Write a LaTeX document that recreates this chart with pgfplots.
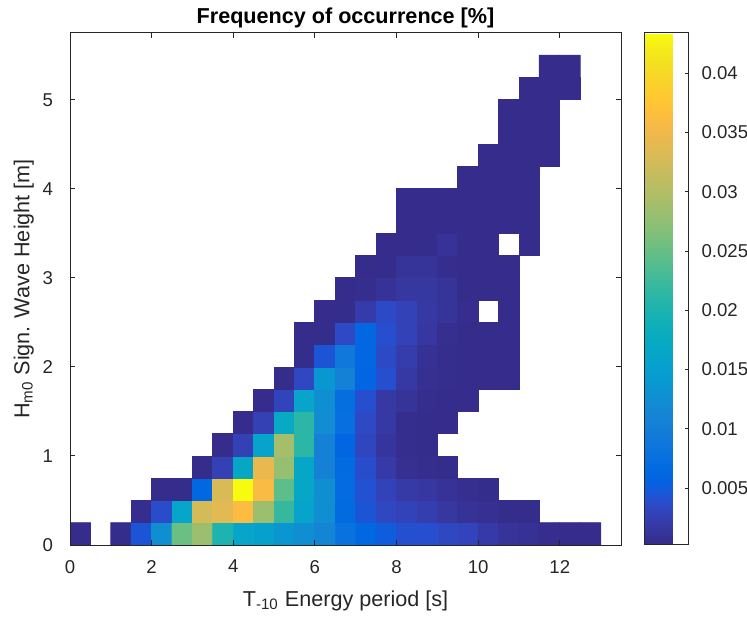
\documentclass[border=0pt]{standalone}
\usepackage{pgfplots}
\pgfplotsset{compat=1.18}
\usepackage{fontspec}
\setmainfont{Liberation Sans}
\definecolor{axgray}{rgb}{0.15,0.15,0.15}
\pgfplotsset{
  colormap={parula}{
    rgb=(0.2081,0.1663,0.5292) rgb=(0.2116,0.1898,0.5777) rgb=(0.2123,0.2138,0.6270) rgb=(0.2081,0.2386,0.6771)
    rgb=(0.1959,0.2645,0.7279) rgb=(0.1707,0.2919,0.7792) rgb=(0.1253,0.3242,0.8303) rgb=(0.0591,0.3598,0.8683)
    rgb=(0.0117,0.3875,0.8820) rgb=(0.0060,0.4086,0.8828) rgb=(0.0165,0.4266,0.8786) rgb=(0.0329,0.4430,0.8720)
    rgb=(0.0498,0.4586,0.8641) rgb=(0.0629,0.4737,0.8554) rgb=(0.0723,0.4887,0.8467) rgb=(0.0779,0.5040,0.8384)
    rgb=(0.0793,0.5200,0.8312) rgb=(0.0749,0.5375,0.8263) rgb=(0.0641,0.5570,0.8240) rgb=(0.0488,0.5772,0.8228)
    rgb=(0.0343,0.5966,0.8199) rgb=(0.0265,0.6137,0.8135) rgb=(0.0239,0.6287,0.8038) rgb=(0.0231,0.6418,0.7913)
    rgb=(0.0228,0.6535,0.7768) rgb=(0.0267,0.6642,0.7607) rgb=(0.0384,0.6743,0.7436) rgb=(0.0590,0.6838,0.7254)
    rgb=(0.0843,0.6928,0.7062) rgb=(0.1133,0.7015,0.6859) rgb=(0.1453,0.7098,0.6646) rgb=(0.1801,0.7177,0.6424)
    rgb=(0.2178,0.7250,0.6193) rgb=(0.2586,0.7317,0.5954) rgb=(0.3022,0.7376,0.5712) rgb=(0.3482,0.7424,0.5473)
    rgb=(0.3953,0.7459,0.5244) rgb=(0.4420,0.7481,0.5033) rgb=(0.4871,0.7491,0.4840) rgb=(0.5300,0.7491,0.4661)
    rgb=(0.5709,0.7485,0.4494) rgb=(0.6099,0.7473,0.4337) rgb=(0.6473,0.7456,0.4188) rgb=(0.6834,0.7435,0.4044)
    rgb=(0.7184,0.7411,0.3905) rgb=(0.7525,0.7384,0.3768) rgb=(0.7858,0.7356,0.3633) rgb=(0.8185,0.7327,0.3498)
    rgb=(0.8507,0.7299,0.3360) rgb=(0.8824,0.7274,0.3217) rgb=(0.9139,0.7258,0.3063) rgb=(0.9450,0.7261,0.2886)
    rgb=(0.9739,0.7314,0.2666) rgb=(0.9938,0.7455,0.2403) rgb=(0.9990,0.7653,0.2164) rgb=(0.9955,0.7861,0.1967)
    rgb=(0.9880,0.8066,0.1794) rgb=(0.9789,0.8271,0.1633) rgb=(0.9697,0.8481,0.1475) rgb=(0.9626,0.8705,0.1309)
    rgb=(0.9589,0.8949,0.1132) rgb=(0.9598,0.9218,0.0948) rgb=(0.9661,0.9514,0.0755) rgb=(0.9763,0.9831,0.0538)
  }
}
\begin{document}
\begin{tikzpicture}
\begin{axis}[
  name=main,
  scale only axis,
  width=275.5pt, height=256pt,
  xmin=0, xmax=13.5, ymin=0, ymax=5.75,
  xtick={0,2,...,12}, ytick={0,1,...,5},
  tick align=inside,
  major tick length=2.6pt,
  axis on top,
  axis line style={draw=axgray, line width=0.5pt},
  every tick/.style={draw=axgray, line width=0.5pt},
  tick label style={font=\fontsize{9.3}{11}\selectfont, text=axgray},
  xticklabel style={yshift=-4pt},
  yticklabel style={xshift=-5pt},
  /pgf/number format/assume math mode=true,
  label style={font=\fontsize{10.8}{13}\selectfont, text=axgray},
  xlabel style={yshift=-2pt},
  ylabel style={yshift=-2.5pt},
  title style={font=\bfseries\fontsize{10.8}{13}\selectfont, text=black, yshift=-7pt},
  title={Frequency of occurrence [\%]},
  xlabel={T\textsubscript{-10} Energy period [s]},
  ylabel={H\textsubscript{m0} Sign. Wave Height [m]},
  colormap name=parula,
  point meta min=0.0002, point meta max=0.0434,
  colorbar,
  colorbar shift/.style={xshift=11.5pt},
  colorbar style={
    width=22pt,
    ytick={0.005,0.01,0.015,0.02,0.025,0.03,0.035,0.04},
    scaled y ticks=false,
    ytick pos=right,
    tick align=inside,
    major tick length=2pt,
    yticklabel style={font=\fontsize{9.3}{11}\selectfont, text=axgray, xshift=3pt, /pgf/number format/fixed, /pgf/number format/precision=3},
    /pgf/number format/assume math mode=true,
    axis line style={draw=axgray, line width=0.5pt},
    every tick/.style={draw=axgray, line width=0.5pt},
  },
  unbounded coords=jump,
]
\addplot[matrix plot*, mesh/cols=26, point meta=explicit, unbounded coords=jump] table[x=x, y=y, meta=c, row sep=\\] {
x y c\\
0.25 0.125 0.0004\\ 0.75 0.125 nan\\ 1.25 0.125 0.0005\\ 1.75 0.125 0.0045\\ 2.25 0.125 0.0126\\ 2.75 0.125 0.0253\\ 3.25 0.125 0.0283\\ 3.75 0.125 0.0200\\ 4.25 0.125 0.0162\\ 4.75 0.125 0.0153\\ 5.25 0.125 0.0136\\ 5.75 0.125 0.0126\\ 6.25 0.125 0.0112\\ 6.75 0.125 0.0080\\ 7.25 0.125 0.0063\\ 7.75 0.125 0.0050\\ 8.25 0.125 0.0041\\ 8.75 0.125 0.0040\\ 9.25 0.125 0.0034\\ 9.75 0.125 0.0030\\ 10.25 0.125 0.0020\\ 10.75 0.125 0.0012\\ 11.25 0.125 0.0009\\ 11.75 0.125 0.0006\\ 12.25 0.125 0.0004\\ 12.75 0.125 0.0004\\
0.25 0.375 nan\\ 0.75 0.375 nan\\ 1.25 0.375 nan\\ 1.75 0.375 0.0006\\ 2.25 0.375 0.0038\\ 2.75 0.375 0.0162\\ 3.25 0.375 0.0326\\ 3.75 0.375 0.0340\\ 4.25 0.375 0.0362\\ 4.75 0.375 0.0283\\ 5.25 0.375 0.0220\\ 5.75 0.375 0.0160\\ 6.25 0.375 0.0126\\ 6.75 0.375 0.0068\\ 7.25 0.375 0.0045\\ 7.75 0.375 0.0033\\ 8.25 0.375 0.0029\\ 8.75 0.375 0.0024\\ 9.25 0.375 0.0016\\ 9.75 0.375 0.0011\\ 10.25 0.375 0.0008\\ 10.75 0.375 0.0005\\ 11.25 0.375 0.0005\\ 11.75 0.375 nan\\ 12.25 0.375 nan\\ 12.75 0.375 nan\\
0.25 0.625 nan\\ 0.75 0.625 nan\\ 1.25 0.625 nan\\ 1.75 0.625 nan\\ 2.25 0.625 0.0004\\ 2.75 0.625 0.0005\\ 3.25 0.625 0.0064\\ 3.75 0.625 0.0330\\ 4.25 0.625 0.0434\\ 4.75 0.625 0.0360\\ 5.25 0.625 0.0244\\ 5.75 0.625 0.0166\\ 6.25 0.625 0.0126\\ 6.75 0.625 0.0070\\ 7.25 0.625 0.0042\\ 7.75 0.625 0.0029\\ 8.25 0.625 0.0019\\ 8.75 0.625 0.0016\\ 9.25 0.625 0.0011\\ 9.75 0.625 0.0007\\ 10.25 0.625 0.0005\\ 10.75 0.625 nan\\ 11.25 0.625 nan\\ 11.75 0.625 nan\\ 12.25 0.625 nan\\ 12.75 0.625 nan\\
0.25 0.875 nan\\ 0.75 0.875 nan\\ 1.25 0.875 nan\\ 1.75 0.875 nan\\ 2.25 0.875 nan\\ 2.75 0.875 nan\\ 3.25 0.875 0.0004\\ 3.75 0.875 0.0027\\ 4.25 0.875 0.0168\\ 4.75 0.875 0.0345\\ 5.25 0.875 0.0280\\ 5.75 0.875 0.0165\\ 6.25 0.875 0.0105\\ 6.75 0.875 0.0068\\ 7.25 0.875 0.0038\\ 7.75 0.875 0.0020\\ 8.25 0.875 0.0008\\ 8.75 0.875 0.0006\\ 9.25 0.875 0.0005\\ 9.75 0.875 nan\\ 10.25 0.875 nan\\ 10.75 0.875 nan\\ 11.25 0.875 nan\\ 11.75 0.875 nan\\ 12.25 0.875 nan\\ 12.75 0.875 nan\\
0.25 1.125 nan\\ 0.75 1.125 nan\\ 1.25 1.125 nan\\ 1.75 1.125 nan\\ 2.25 1.125 nan\\ 2.75 1.125 nan\\ 3.25 1.125 nan\\ 3.75 1.125 0.0004\\ 4.25 1.125 0.0027\\ 4.75 1.125 0.0160\\ 5.25 1.125 0.0290\\ 5.75 1.125 0.0212\\ 6.25 1.125 0.0105\\ 6.75 1.125 0.0060\\ 7.25 1.125 0.0032\\ 7.75 1.125 0.0014\\ 8.25 1.125 0.0006\\ 8.75 1.125 0.0005\\ 9.25 1.125 nan\\ 9.75 1.125 nan\\ 10.25 1.125 nan\\ 10.75 1.125 nan\\ 11.25 1.125 nan\\ 11.75 1.125 nan\\ 12.25 1.125 nan\\ 12.75 1.125 nan\\
0.25 1.375 nan\\ 0.75 1.375 nan\\ 1.25 1.375 nan\\ 1.75 1.375 nan\\ 2.25 1.375 nan\\ 2.75 1.375 nan\\ 3.25 1.375 nan\\ 3.75 1.375 nan\\ 4.25 1.375 0.0004\\ 4.75 1.375 0.0027\\ 5.25 1.375 0.0172\\ 5.75 1.375 0.0212\\ 6.25 1.375 0.0122\\ 6.75 1.375 0.0075\\ 7.25 1.375 0.0035\\ 7.75 1.375 0.0018\\ 8.25 1.375 0.0006\\ 8.75 1.375 0.0005\\ 9.25 1.375 0.0004\\ 9.75 1.375 nan\\ 10.25 1.375 nan\\ 10.75 1.375 nan\\ 11.25 1.375 nan\\ 11.75 1.375 nan\\ 12.25 1.375 nan\\ 12.75 1.375 nan\\
0.25 1.625 nan\\ 0.75 1.625 nan\\ 1.25 1.625 nan\\ 1.75 1.625 nan\\ 2.25 1.625 nan\\ 2.75 1.625 nan\\ 3.25 1.625 nan\\ 3.75 1.625 nan\\ 4.25 1.625 nan\\ 4.75 1.625 0.0004\\ 5.25 1.625 0.0030\\ 5.75 1.625 0.0162\\ 6.25 1.625 0.0126\\ 6.75 1.625 0.0074\\ 7.25 1.625 0.0040\\ 7.75 1.625 0.0018\\ 8.25 1.625 0.0012\\ 8.75 1.625 0.0006\\ 9.25 1.625 0.0005\\ 9.75 1.625 0.0004\\ 10.25 1.625 nan\\ 10.75 1.625 nan\\ 11.25 1.625 nan\\ 11.75 1.625 nan\\ 12.25 1.625 nan\\ 12.75 1.625 nan\\
0.25 1.875 nan\\ 0.75 1.875 nan\\ 1.25 1.875 nan\\ 1.75 1.875 nan\\ 2.25 1.875 nan\\ 2.75 1.875 nan\\ 3.25 1.875 nan\\ 3.75 1.875 nan\\ 4.25 1.875 nan\\ 4.75 1.875 nan\\ 5.25 1.875 0.0005\\ 5.75 1.875 0.0033\\ 6.25 1.875 0.0138\\ 6.75 1.875 0.0105\\ 7.25 1.875 0.0060\\ 7.75 1.875 0.0040\\ 8.25 1.875 0.0018\\ 8.75 1.875 0.0008\\ 9.25 1.875 0.0006\\ 9.75 1.875 0.0005\\ 10.25 1.875 0.0004\\ 10.75 1.875 0.0004\\ 11.25 1.875 nan\\ 11.75 1.875 nan\\ 12.25 1.875 nan\\ 12.75 1.875 nan\\
0.25 2.125 nan\\ 0.75 2.125 nan\\ 1.25 2.125 nan\\ 1.75 2.125 nan\\ 2.25 2.125 nan\\ 2.75 2.125 nan\\ 3.25 2.125 nan\\ 3.75 2.125 nan\\ 4.25 2.125 nan\\ 4.75 2.125 nan\\ 5.25 2.125 nan\\ 5.75 2.125 0.0005\\ 6.25 2.125 0.0045\\ 6.75 2.125 0.0090\\ 7.25 2.125 0.0062\\ 7.75 2.125 0.0036\\ 8.25 2.125 0.0022\\ 8.75 2.125 0.0010\\ 9.25 2.125 0.0006\\ 9.75 2.125 0.0005\\ 10.25 2.125 0.0004\\ 10.75 2.125 0.0004\\ 11.25 2.125 nan\\ 11.75 2.125 nan\\ 12.25 2.125 nan\\ 12.75 2.125 nan\\
0.25 2.375 nan\\ 0.75 2.375 nan\\ 1.25 2.375 nan\\ 1.75 2.375 nan\\ 2.25 2.375 nan\\ 2.75 2.375 nan\\ 3.25 2.375 nan\\ 3.75 2.375 nan\\ 4.25 2.375 nan\\ 4.75 2.375 nan\\ 5.25 2.375 nan\\ 5.75 2.375 0.0004\\ 6.25 2.375 0.0005\\ 6.75 2.375 0.0035\\ 7.25 2.375 0.0062\\ 7.75 2.375 0.0040\\ 8.25 2.375 0.0028\\ 8.75 2.375 0.0016\\ 9.25 2.375 0.0007\\ 9.75 2.375 0.0005\\ 10.25 2.375 0.0004\\ 10.75 2.375 0.0004\\ 11.25 2.375 nan\\ 11.75 2.375 nan\\ 12.25 2.375 nan\\ 12.75 2.375 nan\\
0.25 2.625 nan\\ 0.75 2.625 nan\\ 1.25 2.625 nan\\ 1.75 2.625 nan\\ 2.25 2.625 nan\\ 2.75 2.625 nan\\ 3.25 2.625 nan\\ 3.75 2.625 nan\\ 4.25 2.625 nan\\ 4.75 2.625 nan\\ 5.25 2.625 nan\\ 5.75 2.625 nan\\ 6.25 2.625 0.0004\\ 6.75 2.625 0.0005\\ 7.25 2.625 0.0021\\ 7.75 2.625 0.0036\\ 8.25 2.625 0.0028\\ 8.75 2.625 0.0018\\ 9.25 2.625 0.0012\\ 9.75 2.625 0.0006\\ 10.25 2.625 nan\\ 10.75 2.625 0.0004\\ 11.25 2.625 nan\\ 11.75 2.625 nan\\ 12.25 2.625 nan\\ 12.75 2.625 nan\\
0.25 2.875 nan\\ 0.75 2.875 nan\\ 1.25 2.875 nan\\ 1.75 2.875 nan\\ 2.25 2.875 nan\\ 2.75 2.875 nan\\ 3.25 2.875 nan\\ 3.75 2.875 nan\\ 4.25 2.875 nan\\ 4.75 2.875 nan\\ 5.25 2.875 nan\\ 5.75 2.875 nan\\ 6.25 2.875 nan\\ 6.75 2.875 0.0004\\ 7.25 2.875 0.0006\\ 7.75 2.875 0.0011\\ 8.25 2.875 0.0016\\ 8.75 2.875 0.0016\\ 9.25 2.875 0.0012\\ 9.75 2.875 0.0005\\ 10.25 2.875 0.0004\\ 10.75 2.875 0.0004\\ 11.25 2.875 nan\\ 11.75 2.875 nan\\ 12.25 2.875 nan\\ 12.75 2.875 nan\\
0.25 3.125 nan\\ 0.75 3.125 nan\\ 1.25 3.125 nan\\ 1.75 3.125 nan\\ 2.25 3.125 nan\\ 2.75 3.125 nan\\ 3.25 3.125 nan\\ 3.75 3.125 nan\\ 4.25 3.125 nan\\ 4.75 3.125 nan\\ 5.25 3.125 nan\\ 5.75 3.125 nan\\ 6.25 3.125 nan\\ 6.75 3.125 nan\\ 7.25 3.125 0.0004\\ 7.75 3.125 0.0005\\ 8.25 3.125 0.0012\\ 8.75 3.125 0.0012\\ 9.25 3.125 0.0006\\ 9.75 3.125 0.0004\\ 10.25 3.125 0.0004\\ 10.75 3.125 0.0004\\ 11.25 3.125 nan\\ 11.75 3.125 nan\\ 12.25 3.125 nan\\ 12.75 3.125 nan\\
0.25 3.375 nan\\ 0.75 3.375 nan\\ 1.25 3.375 nan\\ 1.75 3.375 nan\\ 2.25 3.375 nan\\ 2.75 3.375 nan\\ 3.25 3.375 nan\\ 3.75 3.375 nan\\ 4.25 3.375 nan\\ 4.75 3.375 nan\\ 5.25 3.375 nan\\ 5.75 3.375 nan\\ 6.25 3.375 nan\\ 6.75 3.375 nan\\ 7.25 3.375 nan\\ 7.75 3.375 0.0004\\ 8.25 3.375 0.0004\\ 8.75 3.375 0.0005\\ 9.25 3.375 0.0011\\ 9.75 3.375 0.0005\\ 10.25 3.375 0.0004\\ 10.75 3.375 nan\\ 11.25 3.375 0.0004\\ 11.75 3.375 nan\\ 12.25 3.375 nan\\ 12.75 3.375 nan\\
0.25 3.625 nan\\ 0.75 3.625 nan\\ 1.25 3.625 nan\\ 1.75 3.625 nan\\ 2.25 3.625 nan\\ 2.75 3.625 nan\\ 3.25 3.625 nan\\ 3.75 3.625 nan\\ 4.25 3.625 nan\\ 4.75 3.625 nan\\ 5.25 3.625 nan\\ 5.75 3.625 nan\\ 6.25 3.625 nan\\ 6.75 3.625 nan\\ 7.25 3.625 nan\\ 7.75 3.625 nan\\ 8.25 3.625 0.0004\\ 8.75 3.625 0.0004\\ 9.25 3.625 0.0004\\ 9.75 3.625 0.0004\\ 10.25 3.625 0.0004\\ 10.75 3.625 0.0004\\ 11.25 3.625 0.0004\\ 11.75 3.625 nan\\ 12.25 3.625 nan\\ 12.75 3.625 nan\\
0.25 3.875 nan\\ 0.75 3.875 nan\\ 1.25 3.875 nan\\ 1.75 3.875 nan\\ 2.25 3.875 nan\\ 2.75 3.875 nan\\ 3.25 3.875 nan\\ 3.75 3.875 nan\\ 4.25 3.875 nan\\ 4.75 3.875 nan\\ 5.25 3.875 nan\\ 5.75 3.875 nan\\ 6.25 3.875 nan\\ 6.75 3.875 nan\\ 7.25 3.875 nan\\ 7.75 3.875 nan\\ 8.25 3.875 0.0004\\ 8.75 3.875 0.0004\\ 9.25 3.875 0.0004\\ 9.75 3.875 0.0004\\ 10.25 3.875 0.0004\\ 10.75 3.875 0.0004\\ 11.25 3.875 0.0004\\ 11.75 3.875 nan\\ 12.25 3.875 nan\\ 12.75 3.875 nan\\
0.25 4.125 nan\\ 0.75 4.125 nan\\ 1.25 4.125 nan\\ 1.75 4.125 nan\\ 2.25 4.125 nan\\ 2.75 4.125 nan\\ 3.25 4.125 nan\\ 3.75 4.125 nan\\ 4.25 4.125 nan\\ 4.75 4.125 nan\\ 5.25 4.125 nan\\ 5.75 4.125 nan\\ 6.25 4.125 nan\\ 6.75 4.125 nan\\ 7.25 4.125 nan\\ 7.75 4.125 nan\\ 8.25 4.125 nan\\ 8.75 4.125 nan\\ 9.25 4.125 nan\\ 9.75 4.125 0.0004\\ 10.25 4.125 0.0004\\ 10.75 4.125 0.0004\\ 11.25 4.125 0.0004\\ 11.75 4.125 nan\\ 12.25 4.125 nan\\ 12.75 4.125 nan\\
0.25 4.375 nan\\ 0.75 4.375 nan\\ 1.25 4.375 nan\\ 1.75 4.375 nan\\ 2.25 4.375 nan\\ 2.75 4.375 nan\\ 3.25 4.375 nan\\ 3.75 4.375 nan\\ 4.25 4.375 nan\\ 4.75 4.375 nan\\ 5.25 4.375 nan\\ 5.75 4.375 nan\\ 6.25 4.375 nan\\ 6.75 4.375 nan\\ 7.25 4.375 nan\\ 7.75 4.375 nan\\ 8.25 4.375 nan\\ 8.75 4.375 nan\\ 9.25 4.375 nan\\ 9.75 4.375 nan\\ 10.25 4.375 0.0004\\ 10.75 4.375 0.0004\\ 11.25 4.375 0.0004\\ 11.75 4.375 0.0004\\ 12.25 4.375 nan\\ 12.75 4.375 nan\\
0.25 4.625 nan\\ 0.75 4.625 nan\\ 1.25 4.625 nan\\ 1.75 4.625 nan\\ 2.25 4.625 nan\\ 2.75 4.625 nan\\ 3.25 4.625 nan\\ 3.75 4.625 nan\\ 4.25 4.625 nan\\ 4.75 4.625 nan\\ 5.25 4.625 nan\\ 5.75 4.625 nan\\ 6.25 4.625 nan\\ 6.75 4.625 nan\\ 7.25 4.625 nan\\ 7.75 4.625 nan\\ 8.25 4.625 nan\\ 8.75 4.625 nan\\ 9.25 4.625 nan\\ 9.75 4.625 nan\\ 10.25 4.625 nan\\ 10.75 4.625 0.0004\\ 11.25 4.625 0.0004\\ 11.75 4.625 0.0004\\ 12.25 4.625 nan\\ 12.75 4.625 nan\\
0.25 4.875 nan\\ 0.75 4.875 nan\\ 1.25 4.875 nan\\ 1.75 4.875 nan\\ 2.25 4.875 nan\\ 2.75 4.875 nan\\ 3.25 4.875 nan\\ 3.75 4.875 nan\\ 4.25 4.875 nan\\ 4.75 4.875 nan\\ 5.25 4.875 nan\\ 5.75 4.875 nan\\ 6.25 4.875 nan\\ 6.75 4.875 nan\\ 7.25 4.875 nan\\ 7.75 4.875 nan\\ 8.25 4.875 nan\\ 8.75 4.875 nan\\ 9.25 4.875 nan\\ 9.75 4.875 nan\\ 10.25 4.875 nan\\ 10.75 4.875 0.0004\\ 11.25 4.875 0.0004\\ 11.75 4.875 0.0004\\ 12.25 4.875 nan\\ 12.75 4.875 nan\\
0.25 5.125 nan\\ 0.75 5.125 nan\\ 1.25 5.125 nan\\ 1.75 5.125 nan\\ 2.25 5.125 nan\\ 2.75 5.125 nan\\ 3.25 5.125 nan\\ 3.75 5.125 nan\\ 4.25 5.125 nan\\ 4.75 5.125 nan\\ 5.25 5.125 nan\\ 5.75 5.125 nan\\ 6.25 5.125 nan\\ 6.75 5.125 nan\\ 7.25 5.125 nan\\ 7.75 5.125 nan\\ 8.25 5.125 nan\\ 8.75 5.125 nan\\ 9.25 5.125 nan\\ 9.75 5.125 nan\\ 10.25 5.125 nan\\ 10.75 5.125 nan\\ 11.25 5.125 0.0004\\ 11.75 5.125 0.0004\\ 12.25 5.125 0.0004\\ 12.75 5.125 nan\\
0.25 5.375 nan\\ 0.75 5.375 nan\\ 1.25 5.375 nan\\ 1.75 5.375 nan\\ 2.25 5.375 nan\\ 2.75 5.375 nan\\ 3.25 5.375 nan\\ 3.75 5.375 nan\\ 4.25 5.375 nan\\ 4.75 5.375 nan\\ 5.25 5.375 nan\\ 5.75 5.375 nan\\ 6.25 5.375 nan\\ 6.75 5.375 nan\\ 7.25 5.375 nan\\ 7.75 5.375 nan\\ 8.25 5.375 nan\\ 8.75 5.375 nan\\ 9.25 5.375 nan\\ 9.75 5.375 nan\\ 10.25 5.375 nan\\ 10.75 5.375 nan\\ 11.25 5.375 nan\\ 11.75 5.375 0.0004\\ 12.25 5.375 0.0004\\ 12.75 5.375 nan\\
};
\end{axis}
\pgfresetboundingbox
\path[use as bounding box] ([xshift=-35pt,yshift=-37.5pt]main.south west) rectangle ([xshift=338.5pt,yshift=272.5pt]main.south west);
\end{tikzpicture}
\end{document}
